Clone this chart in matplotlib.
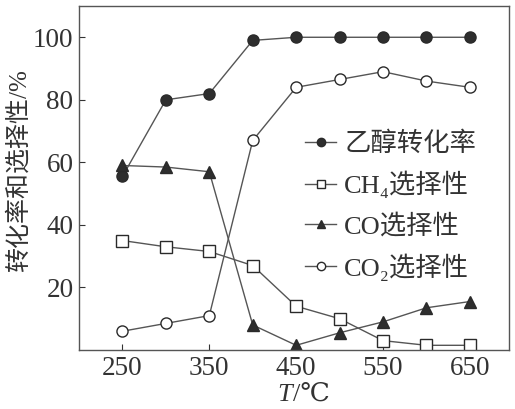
import matplotlib
matplotlib.use("Agg")
import matplotlib.pyplot as plt
from matplotlib.lines import Line2D

plt.rcParams['font.family'] = ['Liberation Serif', 'DejaVu Serif', 'Noto Sans CJK SC']

temps = [250, 300, 350, 400, 450, 500, 550, 600, 650]
ethanol_conv = [55.5, 80, 82, 99, 100, 100, 100, 100, 100]
ch4_sel = [35, 33, 31.5, 27, 14, 10, 3, 1.5, 1.5]
co_sel = [59, 58.5, 57, 8, 1.5, 5.5, 9, 13.5, 15.5]
co2_sel = [6, 8.5, 11, 67, 84, 86.5, 89, 86, 84]

labels = ['乙醇转化率', 'CH₄选择性', 'CO选择性', 'CO₂选择性']
xticks = [250, 350, 450, 550, 650]
yticks = [20, 40, 60, 80, 100]

txt = '#333333'
lc = '#555555'
ec = '#2a2a2a'

fig = plt.figure(figsize=(5.15, 4.09), dpi=100)
ax = fig.add_axes([79/515, 1-350/409, 430/515, 344/409])

ax.plot(temps, ethanol_conv, '-', color=lc, lw=1.0, marker='o', ms=8,
        mfc='#2e2e2e', mec=ec, mew=1.0)
ax.plot(temps, ch4_sel, '-', color=lc, lw=1.0, marker='s', ms=8,
        mfc='white', mec=ec, mew=1.0)
ax.plot(temps, co_sel, '-', color=lc, lw=1.0, marker='^', ms=8,
        mfc='#2e2e2e', mec=ec, mew=1.0)
ax.plot(temps, co2_sel, '-', color=lc, lw=1.0, marker='o', ms=8,
        mfc='white', mec=ec, mew=1.0)

ax.set_xlim(200, 695)
ax.set_ylim(0, 110)
ax.set_xticks(xticks)
ax.set_yticks(yticks)
ax.tick_params(direction='in', length=4, width=0.8, colors=txt,
               labelsize=19.5, pad=4, top=False, right=False)
for s in ax.spines.values():
    s.set_color('#555555')
    s.set_linewidth(1.0)

handles = [
    Line2D([], [], color=lc, lw=1.0, marker='o', ms=6, mfc='#2e2e2e', mec=ec),
    Line2D([], [], color=lc, lw=1.0, marker='s', ms=6, mfc='white', mec=ec),
    Line2D([], [], color=lc, lw=1.0, marker='^', ms=6, mfc='#2e2e2e', mec=ec),
    Line2D([], [], color=lc, lw=1.0, marker='o', ms=6, mfc='white', mec=ec),
]
leg = ax.legend(handles, labels, loc='upper left', bbox_to_anchor=(0.525, 0.636),
                frameon=False, fontsize=19, handlelength=1.2, handletextpad=0.3,
                labelspacing=0.57, borderpad=0, borderaxespad=0)
for t in leg.get_texts():
    t.set_color(txt)

fig.text(19/515, 1-171/409, '转化率和选择性/%', rotation=90, ha='center', va='center',
         fontsize=18, color=txt)
fig.text(292/515, 1-395/409, 'T', style='italic', ha='right', va='center',
         fontsize=19, color=txt)
fig.text(293/515, 1-395/409, '/℃', ha='left', va='center',
         fontsize=19, color=txt)

fig.savefig('out.png', dpi=100)
